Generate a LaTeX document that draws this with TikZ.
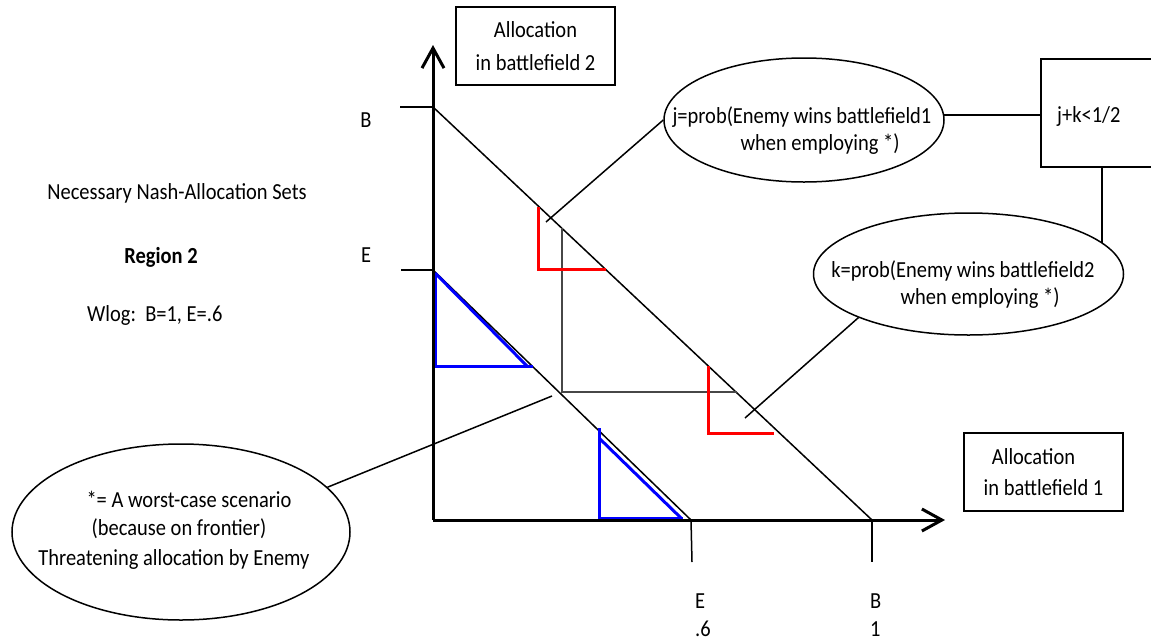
\documentclass[tikz,border=0pt]{standalone}
\usepackage{fontspec}
\setmainfont{Carlito}[FakeStretch=0.89]
\usetikzlibrary{arrows.meta,shapes.geometric}

\tikzset{
  axisline/.style={line width=3pt, -{Straight Barb[length=20pt,width=22pt,line width=3pt]}},
  thinline/.style={line width=1.5pt},
  conn/.style={line width=1.5pt},
  redset/.style={red, line width=3pt},
  blueset/.style={blue, line width=3pt},
  guide/.style={black!72, line width=2pt},
  note/.style={ellipse, draw, line width=1.5pt, inner sep=0pt},
  labelbox/.style={draw, line width=1.5pt, inner sep=0pt, align=center},
  txt/.style={inner sep=0pt, font=\fontsize{23}{27}\selectfont},
}

\begin{document}
\begin{tikzpicture}[x=1pt,y=-1pt]
\useasboundingbox (0,0) rectangle (1151,643);
\clip (0,0) rectangle (1151,643);

% key points of the plot
\coordinate (O) at (433,520);
\coordinate (Btop) at (433,107);
\coordinate (Etop) at (433,270);
\coordinate (Bright) at (872,520);
\coordinate (Eright) at (691,520);

% frontiers
\draw[thinline] (Btop) -- (Bright);
\draw[thinline] (Etop) -- (Eright);

% guide lines
\draw[guide] (562,228) -- (562,392) -- (737,392);

% red sets
\draw[redset] (538,207) -- (538,269) -- (606,269);
\draw[redset] (708,366) -- (708,433) -- (774,433);

% blue sets
\draw[blueset] (435,273) -- (435,366) -- (533,366);
\draw[blueset] (435,273) -- (527,366);
\draw[blueset] (599,428) -- (599,518) -- (683,518);
\draw[blueset] (599,438) -- (681,518);

% ticks
\draw[thinline] (400,107) -- (Btop);
\draw[thinline] (401,270) -- (Etop);
\draw[thinline] (Eright) -- (692,562);
\draw[thinline] (Bright) -- (872,562);

% axes
\draw[axisline] (O) -- (433,45);
\draw[axisline] (O) -- (945,520);

% axis letters
\node[txt, anchor=base] (lB) at (366,127) {B};
\node[txt, anchor=base] (lE) at (366,262) {E};
\node[txt, anchor=base west] (bE) at (695,608) {E};
\node[txt, anchor=base west] (bE6) at (695,636) {.6};
\node[txt, anchor=base west] (bB) at (870,608) {B};
\node[txt, anchor=base west] (bB1) at (870,636) {1};

% left texts
\node[txt, anchor=base] (title) at (177,199) {Necessary Nash-Allocation Sets};
\node[txt, anchor=base, font=\fontsize{23}{27}\selectfont\bfseries] (region) at (161,263) {Region 2};
\node[txt, anchor=base west] (wlog) at (87,321) {Wlog:\ \ B=1, E=.6};

% axis boxes
\node[labelbox, txt, draw, line width=1.5pt, align=center, minimum width=159pt, minimum height=78pt,
      font=\fontsize{23}{33}\selectfont] (ax2) at (535.5,46) {Allocation\\in battlefield 2};
\node[labelbox, txt, draw, line width=1.5pt, align=center, minimum width=159pt, minimum height=78pt,
      font=\fontsize{23}{31}\selectfont] (ax1) at (1043.5,472) {Allocation\hspace*{20pt}\\in battlefield 1};

% ellipses
\node[note, minimum width=280pt, minimum height=124pt] (j) at (804,120) {};
\node[txt, anchor=base] (j1) at (802,123) {j=prob(Enemy wins battlefield1};
\node[txt, anchor=base] (j2) at (820,150) {when employing *)};

\node[note, minimum width=310pt, minimum height=122pt] (k) at (968.5,274) {};
\node[txt, anchor=base] (k1) at (963,277) {k=prob(Enemy wins battlefield2};
\node[txt, anchor=base] (k2) at (980,304) {when employing *)};

\node[note, minimum width=338pt, minimum height=176pt] (w) at (181,532) {};
\node[txt, anchor=base] (w1) at (189,507) {*= A worst-case scenario};
\node[txt, anchor=base] (w2) at (179,535) {(because on frontier)};
\node[txt, anchor=base] (w3) at (174,565) {Threatening allocation by Enemy};

% condition box
\node[draw, line width=1.5pt, anchor=north west, minimum width=140pt, minimum height=108pt, inner sep=0pt] (sum) at (1040,58) {};
\node[txt, anchor=base west] (sumt) at (1057,122) {j+k<1/2};

% connectors
\coordinate (jp) at (546,222);
\coordinate (kp) at (745,418);
\coordinate (wp) at (552,396);
\coordinate (kt) at (1102,243);
\draw[conn] (j.west) -- (jp);
\draw[conn] (k.south west) -- (kp);
\draw[conn] (w.17) -- (wp);
\draw[conn] (j.2) -- (j.2 -| sum.west);
\draw[conn] (sum.south -| kt) -- (kt);
\end{tikzpicture}
\end{document}
